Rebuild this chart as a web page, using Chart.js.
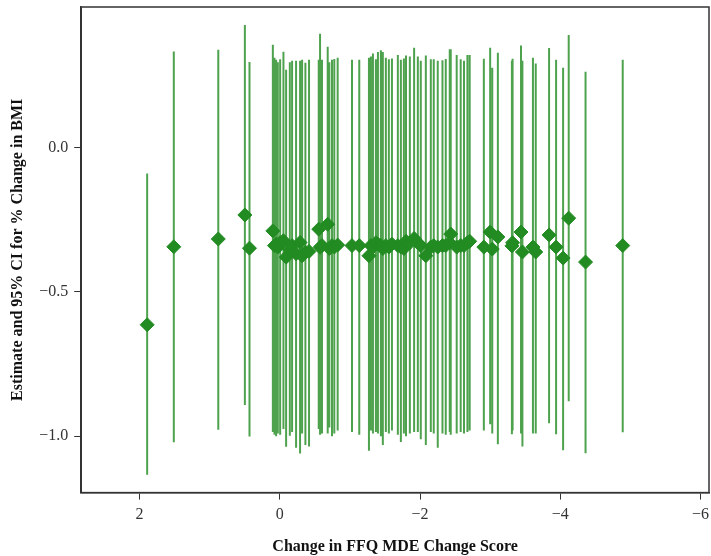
<!DOCTYPE html>
<html>
<head>
<meta charset="utf-8">
<script src="https://cdn.jsdelivr.net/npm/chart.js@4"></script>
<style>
  html, body { margin: 0; padding: 0; background: #fff; }
  #wrap { width: 711px; height: 556px; }
</style>
</head>
<body>
<div id="wrap"><canvas id="myChart"></canvas></div>
<script>
// change in FFQ MDE score for each point
const changeScore = [
  1.89, 1.51, 0.876, 0.497, 0.431,
  0.098, 0.075, 0.051, 0.027, -0.006, -0.053, -0.091, -0.144, -0.176, -0.233,
  -0.29, -0.319, -0.366, -0.418, -0.556, -0.575, -0.603, -0.684, -0.707, -0.745,
  -0.778, -0.826, -1.03, -1.134,
  -1.272, -1.3, -1.329, -1.371, -1.4, -1.442, -1.47, -1.513, -1.556, -1.6,
  -1.684, -1.727, -1.77, -1.8, -1.855, -1.916, -1.969, -2.011, -2.083, -2.154,
  -2.196, -2.253, -2.32, -2.367, -2.424, -2.438, -2.523, -2.58, -2.627, -2.676, -2.708,
  -2.91, -3.0, -3.03, -3.11, -3.31, -3.32, -3.44, -3.46, -3.61, -3.65,
  -3.84, -3.94, -4.04, -4.12, -4.36, -4.89
];
const estimate = [
  -0.614, -0.344, -0.317, -0.234, -0.349,
  -0.289, -0.34, -0.335, -0.345, -0.33, -0.323, -0.38, -0.355, -0.34, -0.368,
  -0.329, -0.375, -0.363, -0.36, -0.283, -0.346, -0.34, -0.266, -0.35, -0.34,
  -0.345, -0.338, -0.34, -0.34,
  -0.375, -0.34, -0.345, -0.33, -0.335, -0.34, -0.35, -0.34, -0.345, -0.335,
  -0.34, -0.345, -0.35, -0.325, -0.33, -0.315, -0.33, -0.34, -0.375, -0.345,
  -0.34, -0.345, -0.34, -0.34, -0.33, -0.3, -0.345, -0.34, -0.34, -0.33, -0.325,
  -0.345, -0.293, -0.352, -0.31, -0.341, -0.33, -0.293, -0.362, -0.345, -0.362,
  -0.303, -0.345, -0.383, -0.245, -0.397, -0.34
];
const ciLower = [
  -1.133, -1.021, -0.977, -0.892, -1.001,
  -0.985, -0.995, -1.0, -0.99, -0.995, -0.975, -1.036, -0.998, -0.985, -1.04,
  -1.06, -0.99, -1.03, -1.035, -0.975, -0.995, -0.99, -0.99, -0.97, -1.0,
  -0.99, -0.98, -0.985, -0.995,
  -1.05, -0.98, -0.99, -0.985, -0.99, -1.0, -1.03, -0.985, -0.99, -0.98,
  -0.995, -1.02, -0.99, -1.0, -0.99, -0.985, -0.985, -1.01, -1.03, -0.985,
  -0.99, -1.04, -0.99, -0.995, -0.985, -0.995, -0.99, -0.985, -0.99, -0.985, -0.98,
  -0.98, -0.958, -0.99, -1.028, -0.993, -0.98, -0.99, -1.035, -0.99, -0.99,
  -0.955, -0.993, -1.048, -0.879, -1.059, -0.986
];
const ciUpper = [
  -0.09, 0.332, 0.338, 0.424, 0.296,
  0.355, 0.31, 0.303, 0.295, 0.305, 0.331, 0.269, 0.295, 0.3, 0.3,
  0.3, 0.303, 0.293, 0.303, 0.303, 0.393, 0.303, 0.348, 0.295, 0.303,
  0.306, 0.31, 0.303, 0.303,
  0.31, 0.315, 0.325, 0.305, 0.33, 0.336, 0.33, 0.31, 0.305, 0.308,
  0.32, 0.303, 0.308, 0.318, 0.315, 0.345, 0.315, 0.3, 0.318, 0.305,
  0.305, 0.3, 0.302, 0.306, 0.34, 0.34, 0.32, 0.305, 0.3, 0.32, 0.32,
  0.307, 0.345, 0.276, 0.328, 0.3, 0.307, 0.353, 0.3, 0.31, 0.29,
  0.344, 0.303, 0.276, 0.389, 0.262, 0.303
];
const xTicks = [2, 0, -2, -4, -6];
const yTicks = [-1.0, -0.5, 0.0];

const green = "rgb(34, 139, 34)";
const fmt = (v, d) => (v < 0 ? "\u2212" : "") + Math.abs(v).toFixed(d);

// error bars as one line dataset broken by nulls
let barPoints = [];
changeScore.forEach(function (x, i) {
  barPoints.push({ x: x, y: ciLower[i] });
  barPoints.push({ x: x, y: ciUpper[i] });
  barPoints.push({ x: x, y: null });
});
let estPoints = changeScore.map((x, i) => ({ x: x, y: estimate[i] }));

const frame = {
  id: "frame",
  afterDraw(chart) {
    const a = chart.chartArea;
    const ctx = chart.ctx;
    ctx.save();
    ctx.strokeStyle = "#333";
    ctx.lineWidth = 1.5;
    ctx.strokeRect(a.left, a.top, a.right - a.left, a.bottom - a.top);
    ctx.restore();
  }
};

new Chart(document.getElementById("myChart"), {
  type: "scatter",
  data: {
    datasets: [
      {
        type: "line",
        data: barPoints,
        borderColor: "rgba(34, 139, 34, 0.8)",
        borderWidth: 2,
        pointRadius: 0,
        spanGaps: false,
        order: 2
      },
      {
        data: estPoints,
        pointStyle: "rectRot",
        pointRadius: 7,
        backgroundColor: green,
        borderColor: green,
        borderWidth: 1,
        order: 1
      }
    ]
  },
  options: {
    responsive: true,
    maintainAspectRatio: false,
    animation: false,
    layout: { autoPadding: false, padding: { top: 7, right: 2, left: 8, bottom: 0 } },
    plugins: { legend: { display: false }, tooltip: { enabled: false } },
    scales: {
      x: {
        type: "linear",
        reverse: true,
        min: -6.12,
        max: 2.83,
        afterBuildTicks: (axis) => { axis.ticks = xTicks.map((v) => ({ value: v })); },
        afterFit: (axis) => { axis.paddingLeft = 0; axis.paddingRight = 0; },
        grid: { drawOnChartArea: false, drawTicks: true, tickLength: 7, color: "#333" },
        border: { color: "#333", width: 1.5 },
        ticks: {
          color: "#333",
          font: { family: "Liberation Serif", size: 16 },
          padding: 6,
          callback: (v) => fmt(v, 0)
        },
        title: {
          display: true,
          text: "Change in FFQ MDE Change Score",
          color: "#111",
          font: { family: "Liberation Serif", size: 16, weight: "bold" },
          padding: { top: 6, bottom: 0 }
        }
      },
      y: {
        min: -1.195,
        max: 0.486,
        afterBuildTicks: (axis) => { axis.ticks = yTicks.map((v) => ({ value: v })); },
        afterFit: (axis) => { axis.paddingTop = 0; axis.paddingBottom = 0; },
        grid: { drawOnChartArea: false, drawTicks: true, tickLength: 7, color: "#333" },
        border: { color: "#333", width: 1.5 },
        ticks: {
          color: "#333",
          font: { family: "Liberation Serif", size: 16 },
          padding: 6,
          callback: (v) => fmt(v, 1)
        },
        title: {
          display: true,
          text: "Estimate and 95% CI for % Change in BMI",
          color: "#111",
          font: { family: "Liberation Serif", size: 16, weight: "bold" },
          padding: { top: 0, bottom: 6 }
        }
      }
    }
  },
  plugins: [frame]
});
</script>
</body>
</html>
